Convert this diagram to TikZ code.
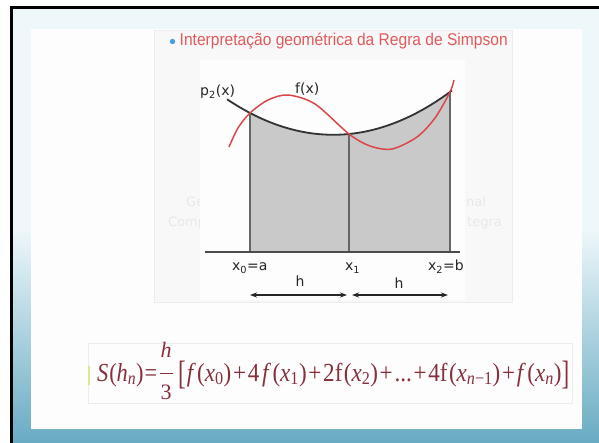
\documentclass[tikz,border=0pt]{standalone}
\usepackage{fontspec}
\setmainfont{Liberation Serif}
\newfontfamily\dvfont{DejaVu Sans}
\newfontfamily\lsfont{Liberation Sans}
\usetikzlibrary{arrows.meta,calc}
\definecolor{framelight}{HTML}{EEF7FA}
\definecolor{frameblue}{HTML}{68ABC3}
\definecolor{slidewhite}{HTML}{FDFDFD}
\definecolor{panelfill}{HTML}{F8F8F8}
\definecolor{paneledge}{HTML}{ECECEC}
\definecolor{titlered}{HTML}{E05A5C}
\definecolor{bulletblue}{HTML}{4A9FD8}
\definecolor{areagray}{HTML}{C9C9C9}
\definecolor{curvered}{HTML}{D9474A}
\definecolor{formulared}{HTML}{85303A}
\definecolor{ghost}{HTML}{E8E8E8}
\definecolor{cursorbar}{HTML}{D8EA90}
\tikzset{
  declare function={ptwo(\t)=-0.00314*(\t-349)^2-0.0988*(\t-349)+134;},
  lab/.style={font=\dvfont\fontsize{14}{16}\selectfont, text=black!85, inner sep=0pt},
  ghosttext/.style={font=\dvfont\fontsize{13}{15}\selectfont, text=ghost, inner sep=0pt},
  fml/.style={font=\fontsize{26}{30}\selectfont, text=formulared, inner sep=0pt},
  fracpart/.style={font=\fontsize{22}{26}\selectfont, text=formulared, inner sep=0pt},
  vline/.style={draw=black!60, line width=1.1pt},
  axisline/.style={draw=black!70, line width=2.4pt},
  dimarrow/.style={draw=black!85, line width=1.1pt, {Stealth[length=7pt,width=5pt]}-{Stealth[length=7pt,width=5pt]}},
  ptwocurve/.style={draw=black!80, line width=1.8pt},
  fcurve/.style={draw=curvered, line width=1.5pt},
}
\newcommand{\pl}{\kern2pt+\kern2pt}
\newcommand{\tallbr}[1]{\raisebox{-0.32ex}{\scalebox{1}[1.3]{#1}}}
\begin{document}
\begin{tikzpicture}[x=1pt,y=-1pt]
\useasboundingbox (0,0) rectangle (599,443);
% page and frame
\fill[white] (0,0) rectangle (599,443);
\fill[framelight] (12.5,9) rectangle (599,443);
\shade[top color=framelight, bottom color=frameblue] (12.5,230) rectangle (599,443);
\draw[black, line width=3pt] (9.5,7.5) -- (599,7.5);
\draw[black, line width=3pt] (11,6) -- (11,443);
\fill[slidewhite] (31,29) rectangle (582,429);
% faint panel
\filldraw[fill=panelfill, draw=paneledge, line width=0.8pt] (154,30) rectangle (512,302);
\node[ghosttext, anchor=base west] (g1) at (186,207) {Ge};
\node[ghosttext, anchor=base west] (g2) at (168,227) {Comp};
\node[ghosttext, anchor=base west] (g3) at (466,207) {nal};
\node[ghosttext, anchor=base west] (g4) at (467,227) {tegra};
\fill[slidewhite] (200,60) rectangle (465,300);
% title
\fill[bulletblue] (172.5,41.5) circle (2.7);
\node[anchor=west, inner sep=0pt, text=titlered, font=\lsfont\fontsize{17}{20}\selectfont] (title) at (179.5,41.5) {\resizebox{328pt}{\height}{Interpretação geométrica da Regra de Simpson}};
% graph
\coordinate (x0) at (250,252);
\coordinate (x1) at (349,252);
\coordinate (x2) at (450,252);
\coordinate (x0t) at (250,{ptwo(250)});
\coordinate (x1t) at (349,{ptwo(349)});
\coordinate (x2t) at (450,{ptwo(450)});
\coordinate (axl) at (205,252);
\coordinate (axr) at (460,252);
\fill[areagray] (x0) -- plot[domain=250:450, samples=60] (\x,{ptwo(\x)}) -- (x2) -- cycle;
\draw[vline] (x0) -- (x0t);
\draw[vline] (x1) -- (x1t);
\draw[vline] (x2) -- (x2t);
\draw[axisline] (axl) -- (axr);
\draw[ptwocurve] plot[domain=227:452, samples=70] (\x,{ptwo(\x)});
\draw[fcurve] plot[smooth] coordinates {(229,147) (238,128) (250,113) (268,100) (288,95) (315,104) (349,134) (370,146) (392,149) (417,137) (435,118) (450,92) (454,80)};
\node[lab, anchor=base west] (lp) at (200,96) {p\textsubscript{2}(x)};
\node[lab, anchor=base west] (lf) at (295,94) {f(x)};
\node[lab, anchor=base west] (lx0) at (232,271) {x\textsubscript{0}=a};
\node[lab, anchor=base west] (lx1) at (345,271) {x\textsubscript{1}};
\node[lab, anchor=base west] (lx2) at (428,271) {x\textsubscript{2}=b};
\coordinate (a1l) at (250,295);
\coordinate (a1r) at (347,295);
\coordinate (a2l) at (352,295);
\coordinate (a2r) at (448,295);
\draw[dimarrow] (a1l) -- (a1r);
\draw[dimarrow] (a2l) -- (a2r);
\node[lab, anchor=base] (h1) at (300,287) {h};
\node[lab, anchor=base] (h2) at (399,289) {h};
% formula box and cursor bar
\draw[paneledge, line width=0.7pt] (88,343) rectangle (572,403);
\draw[cursorbar, line width=2pt] (89,366) -- (89,385);
% formula
\node[fml, anchor=base west] (fl) at (97,381) {\resizebox{60pt}{\height}{\textit{S}\kern1pt(\textit{h}\textsubscript{\textit{n}})\kern1pt=}};
\coordinate (fbl) at (159.5,373.5);
\coordinate (fbr) at (172.5,373.5);
\draw[formulared, line width=0.8pt] (fbl) -- (fbr);
\node[fracpart, anchor=base] (fh) at (166,357) {\resizebox{!}{\height}{\textit{h}}};
\node[fracpart, anchor=base] (f3) at (166,399) {3};
\node[fml, anchor=base west] (fr) at (178,381) {\resizebox{391pt}{\height}{\tallbr{[}\kern1pt\textit{f}\kern1.5pt(\textit{x}\textsubscript{0})\pl 4\kern3pt\textit{f}\kern1.5pt(\textit{x}\textsubscript{1})\pl 2f\kern1.5pt(\textit{x}\textsubscript{2})\pl ...\pl 4f\kern1.5pt(\textit{x}\textsubscript{\textit{n}−1})\pl\textit{f}\kern1.5pt(\textit{x}\textsubscript{\textit{n}})\tallbr{]}}};
\end{tikzpicture}
\end{document}
